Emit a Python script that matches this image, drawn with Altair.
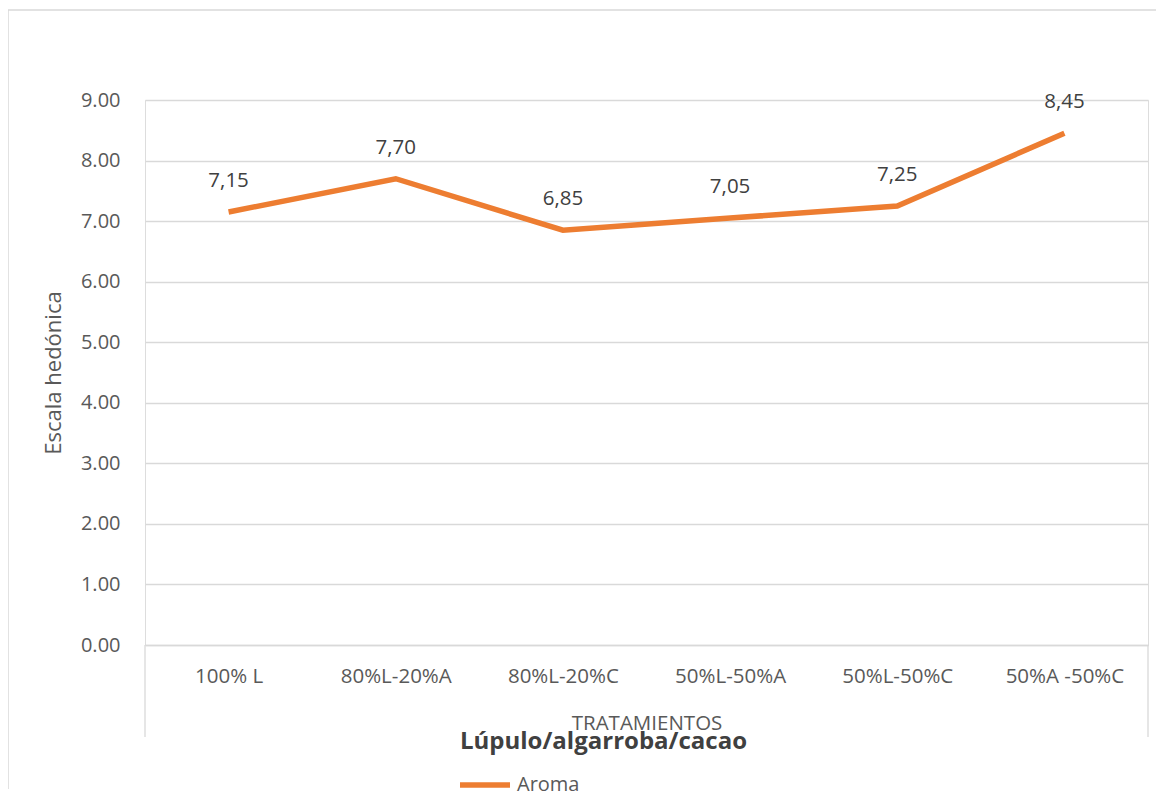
import altair as alt
import pandas as pd

categories = ["100% L", "80%L-20%A", "80%L-20%C", "50%L-50%A", "50%L-50%C", "50%A -50%C"]
values = [7.15, 7.70, 6.85, 7.05, 7.25, 8.45]
series = ["Aroma"] * len(categories)

df = pd.DataFrame({"trat": categories, "val": values, "serie": series})

W, H = 1003, 545
FONT = "Open Sans"
ORANGE = "#ED7D31"
GRID = "#d9d9d9"

x = alt.X("trat:N", sort=categories,
          scale=alt.Scale(type="point", padding=0.5),
          axis=alt.Axis(title="TRATAMIENTOS", labelAngle=0, labelPadding=21,
                        titlePadding=27, ticks=False, grid=False,
                        domainColor=GRID, domainWidth=1.3,
                        labelFont=FONT, labelFontSize=20.5, labelColor="#595959",
                        titleFont=FONT, titleFontSize=20.5, titleFontWeight="normal",
                        titleColor="#595959"))
y = alt.Y("val:Q", scale=alt.Scale(domain=[0, 9], nice=False, zero=True),
          axis=alt.Axis(title="Escala hedónica", values=list(range(10)), format=".2f",
                        domain=False, ticks=False, labelPadding=25, titlePadding=15,
                        gridColor=GRID, gridWidth=1.3,
                        labelFont=FONT, labelFontSize=20, labelColor="#595959",
                        titleFont=FONT, titleFontSize=22, titleFontWeight="normal",
                        titleColor="#595959"))

line = alt.Chart(df).mark_line(strokeWidth=5.5, strokeJoin="miter", strokeCap="butt").encode(
    x=x, y=y,
    color=alt.Color("serie:N", scale=alt.Scale(range=[ORANGE]),
                    legend=alt.Legend(title=None, orient="none", legendX=312, legendY=657,
                                      symbolType="stroke", symbolSize=2500,
                                      symbolStrokeWidth=5.5, labelFont=FONT,
                                      labelFontSize=20, labelColor="#595959",
                                      labelOffset=4))
)

labels = alt.Chart(df).transform_calculate(
    lab="replace(format(datum.val, '.2f'), '.', ',')"
).mark_text(dy=-31, font=FONT, fontSize=20.5, color="#404040").encode(
    x=alt.X("trat:N", sort=categories), y="val:Q", text="lab:N"
)

dummy = pd.DataFrame({"a": [0]})
edge_l = alt.Chart(dummy).mark_rule(color=GRID, strokeWidth=1.3).encode(
    x=alt.value(0), y=alt.value(H), y2=alt.value(H + 92))
edge_r = alt.Chart(dummy).mark_rule(color=GRID, strokeWidth=1.3).encode(
    x=alt.value(W), y=alt.value(H), y2=alt.value(H + 92))

border_l = alt.Chart(dummy).mark_rule(color=GRID, strokeWidth=1.5).encode(
    x=alt.value(-137), y=alt.value(-90), y2=alt.value(H + 144))
border_t = alt.Chart(dummy).mark_rule(color=GRID, strokeWidth=1.5).encode(
    y=alt.value(-90), x=alt.value(-137), x2=alt.value(W + 8))

chart = alt.layer(border_l, border_t, line, labels, edge_l, edge_r).properties(
    width=W, height=H,
    title=alt.TitleParams("Lúpulo/algarroba/cacao", orient="bottom", anchor="middle",
                          frame="group", dx=-43, offset=-66, font=FONT, fontSize=24,
                          fontWeight="bold", color="#404040"),
    padding={"left": 137, "top": 92, "right": 8, "bottom": 152},
    autosize=alt.AutoSizeParams(type="none"),
).configure_view(stroke=None).configure(background="white")

chart.save("out.html", embed_options={"renderer": "svg", "actions": False})
